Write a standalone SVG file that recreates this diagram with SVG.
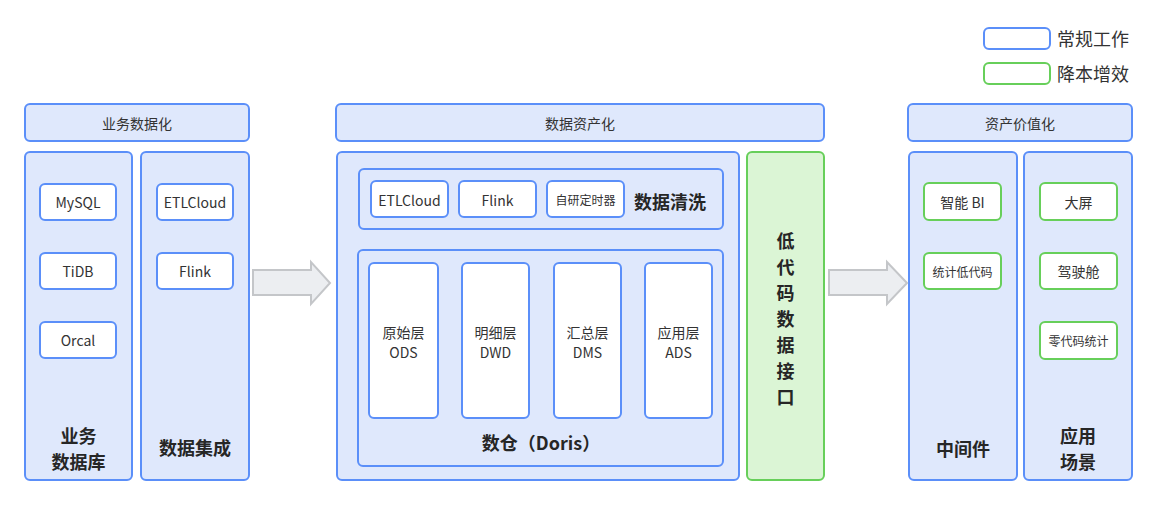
<svg xmlns="http://www.w3.org/2000/svg" width="1157" height="506" viewBox="0 0 1157 506">
<style>
text{font-family:"Noto Sans CJK SC","Noto Sans",sans-serif;fill:#333;text-anchor:middle;dominant-baseline:central}
.b{fill:#dfe8fc;stroke:#5b8ff9;stroke-width:2}
.w{fill:#fff;stroke:#5b8ff9;stroke-width:2}
.gw{fill:#fff;stroke:#67cf5a;stroke-width:2}
.g{fill:#dbf5d5;stroke:#67cf5a;stroke-width:2}
.arr{fill:#eceef1;stroke:#c4c6c9;stroke-width:2}
.s14{font-size:14px}
.s12{font-size:12px}
.h{font-size:18px;font-weight:bold;fill:#262626}
.lg{font-size:18px;text-anchor:start;fill:#333}
</style>
<rect width="1157" height="506" fill="#fff"/>

<g id="legend">
<rect x="984" y="28" width="66" height="21" rx="5" class="w"/>
<text x="1057" y="37.5" class="lg">常规工作</text>
<rect x="984" y="63" width="66" height="21" rx="5" class="gw"/>
<text x="1057" y="72.5" class="lg">降本增效</text>
</g>

<g id="header-business">
<rect x="25" y="104" width="224" height="37" rx="5" class="b"/>
<text x="137" y="122.5" class="s14">业务数据化</text>
</g>
<g id="header-asset">
<rect x="336" y="104" width="488" height="37" rx="5" class="b"/>
<text x="580" y="122.5" class="s14">数据资产化</text>
</g>
<g id="header-value">
<rect x="908" y="104" width="224" height="37" rx="5" class="b"/>
<text x="1020" y="122.5" class="s14">资产价值化</text>
</g>

<g id="col-bizdb">
<rect x="25" y="152" width="107" height="328" rx="5" class="b"/>
<text x="78.5" y="435" class="h">业务</text>
<text x="78.5" y="461" class="h">数据库</text>
</g>
<g id="node-mysql"><rect x="40" y="184" width="76" height="36" rx="5" class="w"/><text x="78" y="202" class="s14">MySQL</text></g>
<g id="node-tidb"><rect x="40" y="253" width="76" height="36" rx="5" class="w"/><text x="78" y="271" class="s14">TiDB</text></g>
<g id="node-orcal"><rect x="40" y="322" width="76" height="36" rx="5" class="w"/><text x="78" y="340" class="s14">Orcal</text></g>

<g id="col-integration">
<rect x="141" y="152" width="108" height="328" rx="5" class="b"/>
<text x="195" y="447" class="h">数据集成</text>
</g>
<g id="node-etlcloud1"><rect x="157" y="184" width="76" height="36" rx="5" class="w"/><text x="195" y="202" class="s14">ETLCloud</text></g>
<g id="node-flink1"><rect x="157" y="253" width="76" height="36" rx="5" class="w"/><text x="195" y="271" class="s14">Flink</text></g>

<g id="col-asset">
<rect x="337" y="152" width="402" height="328" rx="5" class="b"/>
</g>
<g id="group-clean">
<rect x="359" y="169" width="364" height="60" rx="5" class="b"/>
<text x="670" y="201" class="h">数据清洗</text>
</g>
<g id="node-etlcloud2"><rect x="371" y="181" width="77" height="36" rx="5" class="w"/><text x="409.5" y="199.5" class="s14">ETLCloud</text></g>
<g id="node-flink2"><rect x="459" y="181" width="77" height="36" rx="5" class="w"/><text x="497.5" y="199.5" class="s14">Flink</text></g>
<g id="node-timer"><rect x="547" y="181" width="77" height="36" rx="5" class="w"/><text x="585.5" y="199.5" class="s12">自研定时器</text></g>

<g id="group-doris">
<rect x="358" y="250" width="365" height="216" rx="5" class="b"/>
<text x="541" y="442" class="h">数仓（Doris）</text>
</g>
<g id="node-ods"><rect x="369" y="263" width="69" height="155" rx="5" class="w"/><text x="403.5" y="331.5" class="s14">原始层</text><text x="403.5" y="351.5" class="s14">ODS</text></g>
<g id="node-dwd"><rect x="462" y="263" width="67" height="155" rx="5" class="w"/><text x="495.5" y="331.5" class="s14">明细层</text><text x="495.5" y="351.5" class="s14">DWD</text></g>
<g id="node-dms"><rect x="554" y="263" width="67" height="155" rx="5" class="w"/><text x="587.5" y="331.5" class="s14">汇总层</text><text x="587.5" y="351.5" class="s14">DMS</text></g>
<g id="node-ads"><rect x="645" y="263" width="67" height="155" rx="5" class="w"/><text x="678.5" y="331.5" class="s14">应用层</text><text x="678.5" y="351.5" class="s14">ADS</text></g>

<g id="col-lowcode">
<rect x="747" y="152" width="77" height="328" rx="5" class="g"/>
<text x="785.5" y="240" class="h">低</text>
<text x="785.5" y="266" class="h">代</text>
<text x="785.5" y="292" class="h">码</text>
<text x="785.5" y="318" class="h">数</text>
<text x="785.5" y="344" class="h">据</text>
<text x="785.5" y="370" class="h">接</text>
<text x="785.5" y="396" class="h">口</text>
</g>

<g id="col-middleware">
<rect x="909" y="152" width="108" height="328" rx="5" class="b"/>
<text x="963" y="448" class="h">中间件</text>
</g>
<g id="node-bi"><rect x="924" y="183" width="77" height="37" rx="5" class="gw"/><text x="962.5" y="201.5" class="s14">智能 BI</text></g>
<g id="node-statlow"><rect x="924" y="253" width="77" height="36" rx="5" class="gw"/><text x="962.5" y="271" class="s12">统计低代码</text></g>

<g id="col-scenes">
<rect x="1024" y="152" width="108" height="328" rx="5" class="b"/>
<text x="1078" y="435" class="h">应用</text>
<text x="1078" y="461" class="h">场景</text>
</g>
<g id="node-screen"><rect x="1040" y="183" width="77" height="37" rx="5" class="gw"/><text x="1078.5" y="201.5" class="s14">大屏</text></g>
<g id="node-cockpit"><rect x="1040" y="253" width="77" height="36" rx="5" class="gw"/><text x="1078.5" y="271" class="s14">驾驶舱</text></g>
<g id="node-zerocode"><rect x="1040" y="322" width="77" height="37" rx="5" class="gw"/><text x="1078.5" y="340.5" class="s12">零代码统计</text></g>

<g id="connectors">
<polygon points="253,270 311,270 311,262 330,283 311,304 311,295 253,295" class="arr"/>
<polygon points="829,270 887,270 887,262 907,283 887,304 887,295 829,295" class="arr"/>
</g>
</svg>
